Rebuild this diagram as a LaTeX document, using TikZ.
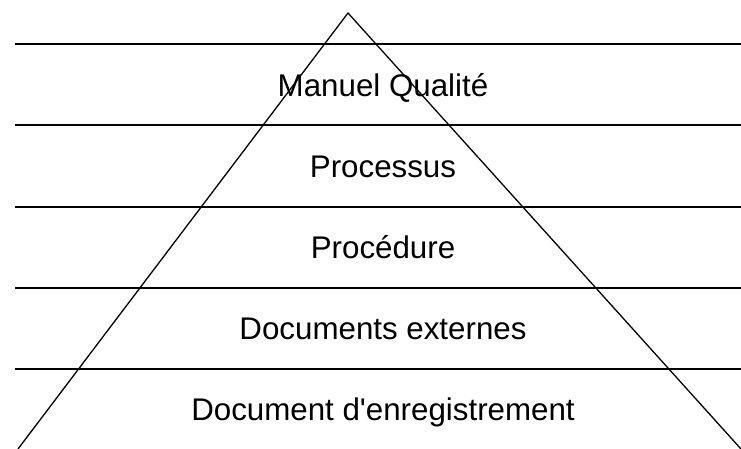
\documentclass[tikz,border=0pt]{standalone}
\usepackage{fontspec}
\setmainfont[Ligatures=TeXOff]{Liberation Sans}
\begin{document}
\begin{tikzpicture}[x=1pt,y=-1pt,
  band/.style={line width=1.8pt},
  tri/.style={line width=1.3pt, line join=miter},
  lbl/.style={anchor=base, inner sep=0pt, font=\fontsize{31.3}{36}\selectfont}]
\useasboundingbox (0,0) rectangle (741,448);
% horizontal lines
\foreach \y [count=\i] in {44,125,207,288,369} {
  \coordinate (l\i) at (15,\y);
  \coordinate (r\i) at (741,\y);
  \draw[band] (l\i) -- (r\i);
}
% triangle
\coordinate (apex) at (348,13);
\coordinate (bl) at (18,449);
\coordinate (br) at (741,449);
\draw[tri] (bl) -- (apex) -- (br);
% labels
\node[lbl] (t1) at (383,96) {Manuel Qualité};
\node[lbl] (t2) at (383,177) {Processus};
\node[lbl] (t3) at (383,258) {Procédure};
\node[lbl] (t4) at (383,339) {Documents externes};
\node[lbl] (t5) at (383,420) {Document d'enregistrement};
\end{tikzpicture}
\end{document}
